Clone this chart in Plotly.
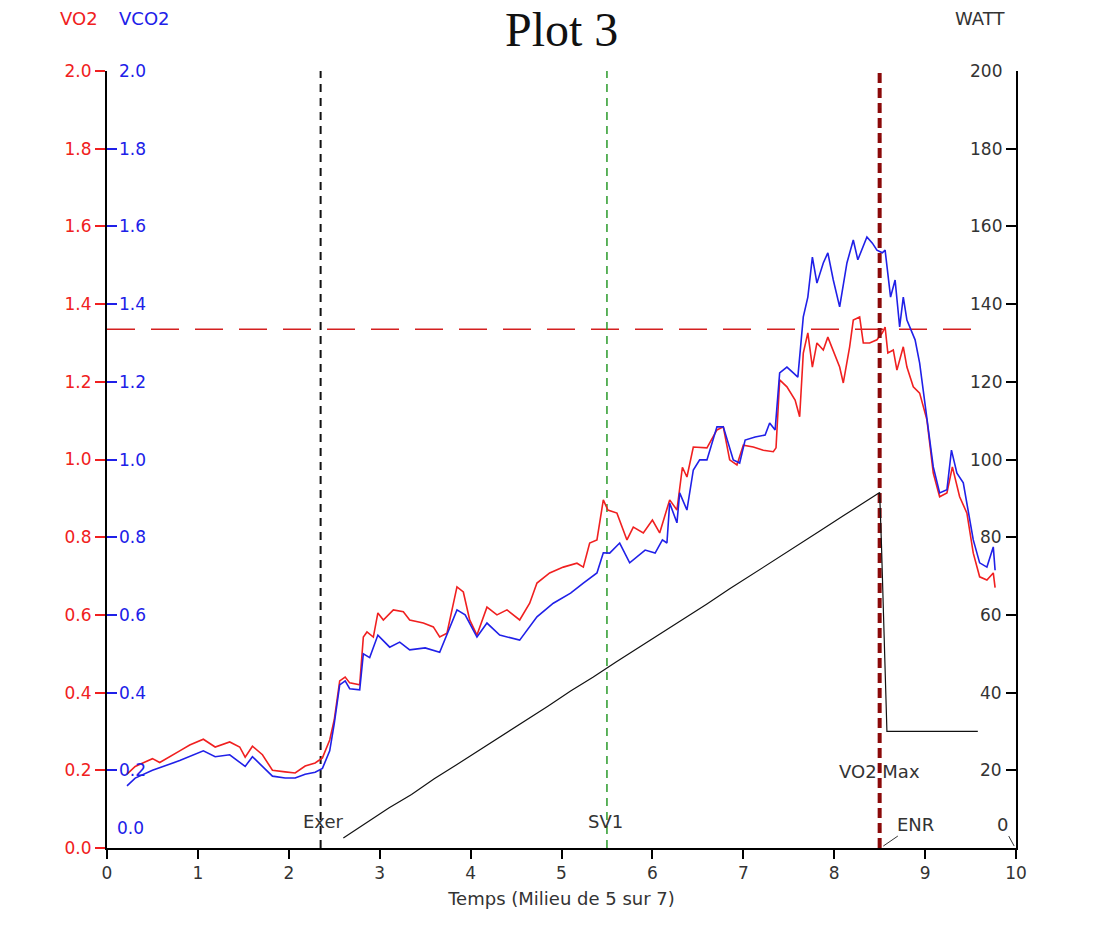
import plotly.graph_objects as go

# ---- data ----
vo2_t = [0.22, 0.31, 0.50, 0.58, 0.80, 0.91, 1.06, 1.19, 1.35, 1.46, 1.52, 1.60, 1.71, 1.82, 1.96, 2.07,
         2.18, 2.29, 2.37, 2.45, 2.50, 2.56, 2.62, 2.67, 2.78, 2.82, 2.86, 2.93, 2.98, 3.04, 3.15, 3.26,
         3.33, 3.48, 3.59, 3.66, 3.74, 3.85, 3.92, 3.99, 4.07, 4.18, 4.29, 4.40, 4.54, 4.65, 4.73, 4.87,
         5.02, 5.17, 5.24, 5.31, 5.39, 5.46, 5.51, 5.61, 5.72, 5.79, 5.90, 6.00, 6.08, 6.19, 6.27, 6.33,
         6.38, 6.45, 6.60, 6.71, 6.78, 6.85, 6.93, 7.00, 7.11, 7.22, 7.33, 7.36, 7.40, 7.48, 7.57, 7.62,
         7.66, 7.71, 7.76, 7.81, 7.88, 7.93, 8.06, 8.10, 8.17, 8.21, 8.28, 8.32, 8.39, 8.47, 8.53, 8.56,
         8.59, 8.65, 8.69, 8.76, 8.80, 8.87, 8.94, 9.02, 9.09, 9.16, 9.24, 9.30, 9.38, 9.46, 9.53, 9.60,
         9.68, 9.75, 9.77]
vo2 = [0.19, 0.21, 0.23, 0.22, 0.25, 0.265, 0.28, 0.26, 0.273, 0.26, 0.234, 0.262, 0.24, 0.20, 0.196, 0.193,
       0.211, 0.219, 0.232, 0.278, 0.33, 0.43, 0.44, 0.425, 0.42, 0.543, 0.556, 0.543, 0.605, 0.587, 0.613, 0.608,
       0.587, 0.579, 0.569, 0.543, 0.553, 0.672, 0.659, 0.587, 0.548, 0.62, 0.60, 0.613, 0.587, 0.63, 0.682, 0.708,
       0.723, 0.733, 0.723, 0.785, 0.793, 0.896, 0.87, 0.862, 0.793, 0.826, 0.811, 0.844, 0.811, 0.896, 0.87, 0.98,
       0.955, 1.032, 1.03, 1.076, 1.084, 0.999, 0.986, 1.037, 1.032, 1.024, 1.02, 1.03, 1.205, 1.187, 1.153, 1.11,
       1.274, 1.326, 1.238, 1.30, 1.282, 1.315, 1.238, 1.197, 1.29, 1.359, 1.367, 1.30, 1.30, 1.308, 1.326, 1.341,
       1.274, 1.282, 1.23, 1.29, 1.238, 1.187, 1.171, 1.102, 0.965, 0.904, 0.914, 0.981, 0.904, 0.862, 0.759, 0.698,
       0.69, 0.708, 0.67]

vco2_t = [0.22, 0.31, 0.50, 0.80, 1.06, 1.19, 1.35, 1.52, 1.60, 1.71, 1.82, 1.96, 2.07, 2.18, 2.29, 2.37,
          2.45, 2.50, 2.56, 2.62, 2.67, 2.78, 2.82, 2.89, 2.98, 3.11, 3.22, 3.33, 3.50, 3.66, 3.85, 3.94,
          4.07, 4.18, 4.32, 4.54, 4.73, 4.91, 5.10, 5.24, 5.39, 5.46, 5.53, 5.64, 5.75, 5.92, 6.03, 6.11,
          6.16, 6.19, 6.27, 6.30, 6.38, 6.45, 6.52, 6.60, 6.71, 6.78, 6.89, 6.96, 7.02, 7.13, 7.24, 7.29,
          7.35, 7.40, 7.48, 7.55, 7.60, 7.66, 7.71, 7.76, 7.81, 7.88, 7.93, 7.99, 8.06, 8.14, 8.21, 8.26,
          8.36, 8.42, 8.47, 8.53, 8.56, 8.62, 8.67, 8.72, 8.76, 8.80, 8.89, 8.94, 9.02, 9.09, 9.16, 9.24,
          9.29, 9.35, 9.42, 9.53, 9.60, 9.68, 9.75, 9.77]
vco2 = [0.16, 0.18, 0.20, 0.225, 0.25, 0.235, 0.24, 0.21, 0.235, 0.21, 0.185, 0.18, 0.18, 0.19, 0.195, 0.205,
        0.25, 0.32, 0.42, 0.43, 0.41, 0.407, 0.50, 0.49, 0.548, 0.517, 0.53, 0.51, 0.515, 0.504, 0.613, 0.60,
        0.543, 0.579, 0.548, 0.535, 0.595, 0.63, 0.656, 0.682, 0.708, 0.76, 0.759, 0.785, 0.734, 0.767, 0.759, 0.793,
        0.785, 0.888, 0.837, 0.914, 0.87, 0.973, 0.999, 0.999, 1.084, 1.084, 0.999, 0.991, 1.05, 1.058, 1.063, 1.094,
        1.076, 1.223, 1.238, 1.223, 1.212, 1.367, 1.418, 1.521, 1.454, 1.506, 1.532, 1.462, 1.393, 1.506, 1.565, 1.514,
        1.573, 1.557, 1.539, 1.532, 1.539, 1.418, 1.462, 1.341, 1.418, 1.359, 1.308, 1.248, 1.102, 0.981, 0.914, 0.922,
        1.024, 0.965, 0.94, 0.793, 0.734, 0.723, 0.775, 0.715]

watt_t = [2.60, 2.85, 3.10, 3.35, 3.60, 3.85, 4.10, 4.35, 4.60, 4.85, 5.10, 5.35, 5.60, 5.85, 6.10, 6.35,
          6.60, 6.85, 7.10, 7.35, 7.60, 7.85, 8.10, 8.35, 8.50, 8.52, 8.58, 9.58]
watt = [2.6, 6.5, 10.3, 13.8, 17.8, 21.5, 25.2, 29.0, 32.8, 36.5, 40.4, 44.0, 47.9, 51.6, 55.3, 59.2,
        62.8, 66.7, 70.4, 74.2, 77.9, 81.7, 85.5, 89.2, 91.5, 78.0, 30.0, 30.0]

x_ticks = [0, 1, 2, 3, 4, 5, 6, 7, 8, 9, 10]
y_ticks = [0.0, 0.2, 0.4, 0.6, 0.8, 1.0, 1.2, 1.4, 1.6, 1.8, 2.0]
y_ticktext = ["0.0", "0.2", "0.4", "0.6", "0.8", "1.0", "1.2", "1.4", "1.6", "1.8", "2.0"]
watt_ticks = [20, 40, 60, 80, 100, 120, 140, 160, 180, 200]
watt_ticktext = ["20", "40", "60", "80", "100", "120", "140", "160", "180", "200"]

exer_t = 2.35
sv1_t = 5.50
vo2max_t = 8.50
vo2max_level = 1.335

RED = "#f02020"
BLUE = "#2020e8"
DARK = "#333333"
FONT = "DejaVu Sans, Verdana, sans-serif"
TS = 17   # tick label size
LS = 18   # label size

fig = go.Figure()

# reference lines
fig.add_trace(go.Scatter(x=[0, 9.65], y=[vo2max_level, vo2max_level], mode="lines",
                         line=dict(color="#d42020", width=1.5, dash="28px,16px"), hoverinfo="skip"))
fig.add_trace(go.Scatter(x=[exer_t, exer_t], y=[0, 2], mode="lines",
                         line=dict(color="#111111", width=2, dash="8px,6px"), hoverinfo="skip"))
fig.add_trace(go.Scatter(x=[sv1_t, sv1_t], y=[0, 2], mode="lines",
                         line=dict(color="#2a9a2a", width=1.5, dash="8px,6px"), hoverinfo="skip"))

# data series
fig.add_trace(go.Scatter(x=watt_t, y=watt, mode="lines", yaxis="y3",
                         line=dict(color="#111111", width=1.2)))
fig.add_trace(go.Scatter(x=vco2_t, y=vco2, mode="lines", yaxis="y2",
                         line=dict(color=BLUE, width=1.6)))
fig.add_trace(go.Scatter(x=vo2_t, y=vo2, mode="lines",
                         line=dict(color=RED, width=1.6)))

fig.add_trace(go.Scatter(x=[vo2max_t, vo2max_t], y=[0, 2], mode="lines",
                         line=dict(color="#8b0a0a", width=4, dash="10px,5px"), hoverinfo="skip"))

fig.update_layout(
    width=1099, height=926,
    margin=dict(l=107, r=83, t=71, b=78),
    paper_bgcolor="white", plot_bgcolor="white",
    showlegend=False,
    font=dict(family=FONT, size=TS, color=DARK),
    xaxis=dict(range=[0, 10], tickvals=x_ticks, ticks="outside", ticklen=9, tickwidth=2,
               tickcolor="black", showline=True, linecolor="black", linewidth=2,
               showgrid=False, zeroline=False, tickfont=dict(size=TS, color=DARK),
               title=dict(text="Temps (Milieu de 5 sur 7)", font=dict(size=LS, color=DARK), standoff=10)),
    yaxis=dict(range=[0, 2], tickvals=y_ticks, ticktext=y_ticktext, ticks="outside", ticklen=10,
               tickwidth=2, tickcolor=RED, showline=True, linecolor="black", linewidth=2,
               showgrid=False, zeroline=False, tickfont=dict(size=TS, color=RED)),
    yaxis2=dict(range=[0, 2], overlaying="y", side="left", anchor="x",
                tickvals=y_ticks[1:], ticks="inside", ticklen=10, tickwidth=2,
                tickcolor=BLUE, showticklabels=False, showline=False, showgrid=False,
                zeroline=False),
    yaxis3=dict(range=[0, 200], overlaying="y", side="right", anchor="x",
                tickvals=watt_ticks, ticks="inside", ticklen=10, tickwidth=2, tickcolor="black",
                showticklabels=False, showline=True, linecolor="black", linewidth=2,
                showgrid=False, zeroline=False),
)

ann = [
    dict(text="Plot 3", x=0.5, y=1.053, xref="paper", yref="paper", xanchor="center", yanchor="middle",
         showarrow=False,
         font=dict(family="Liberation Serif, Times New Roman, serif", size=48, color="#111111")),
    dict(text="VO2", x=-0.031, y=1.068, xref="paper", yref="paper", xanchor="center", yanchor="middle",
         showarrow=False, font=dict(size=LS, color=RED)),
    dict(text="VCO2", x=0.041, y=1.068, xref="paper", yref="paper", xanchor="center", yanchor="middle",
         showarrow=False, font=dict(size=LS, color=BLUE)),
    dict(text="WATT", x=0.960, y=1.068, xref="paper", yref="paper", xanchor="center", yanchor="middle",
         showarrow=False, font=dict(size=LS, color=DARK)),
    dict(text="0.0", x=0.009, y=0.052, xref="paper", yref="y", xanchor="left", yanchor="middle",
         showarrow=False, font=dict(size=TS, color=BLUE)),
    dict(text="Exer", x=exer_t + 0.03, y=0.067, xref="x", yref="y", showarrow=False,
         font=dict(size=LS, color=DARK)),
    dict(text="SV1", x=sv1_t - 0.02, y=0.067, xref="x", yref="y", showarrow=False,
         font=dict(size=LS, color=DARK)),
    dict(text="VO2 Max", x=vo2max_t, y=0.197, xref="x", yref="y", showarrow=False,
         font=dict(size=LS, color=DARK)),
    dict(text="ENR", x=vo2max_t + 0.04, y=0.005, xref="x", yref="y", showarrow=True,
         arrowhead=0, arrowwidth=1, arrowcolor=DARK, ax=32, ay=-22, standoff=0,
         font=dict(size=LS, color=DARK)),
    dict(text="0", x=9.98, y=0.005, xref="x", yref="y", showarrow=True,
         arrowhead=0, arrowwidth=1, arrowcolor=DARK, ax=-12, ay=-22, standoff=0,
         font=dict(size=LS, color=DARK)),
]
# blue VCO2 tick labels (inside the left axis)
for v, t in zip(y_ticks[1:], y_ticktext[1:]):
    ann.append(dict(text=t, x=0.011, y=v, xref="paper", yref="y2", xanchor="left", yanchor="middle",
                    showarrow=False, font=dict(size=TS, color=BLUE)))
# WATT tick labels (inside the right axis)
for v, t in zip(watt_ticks, watt_ticktext):
    ann.append(dict(text=t, x=0.987, y=v, xref="paper", yref="y3", xanchor="right", yanchor="middle",
                    showarrow=False, font=dict(size=TS, color=DARK)))
fig.update_layout(annotations=ann)

fig.write_html("out.html")
